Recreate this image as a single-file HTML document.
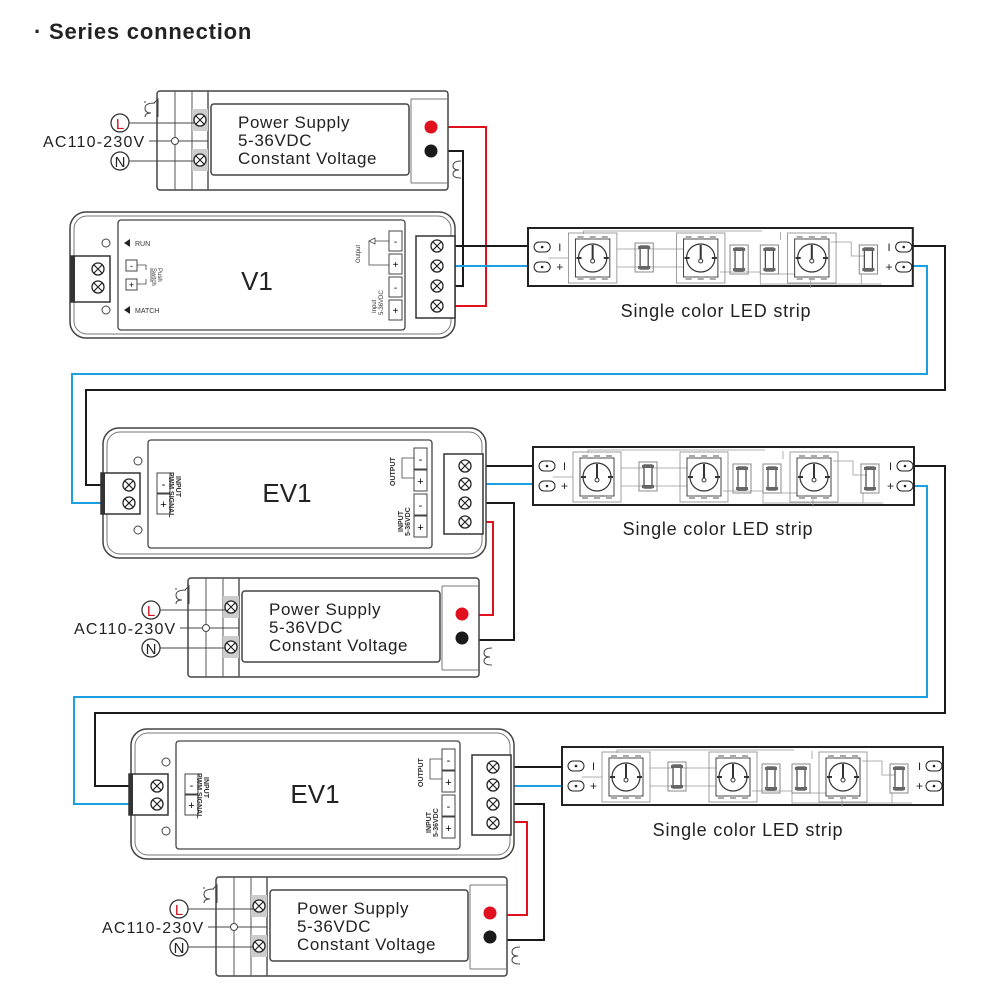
<!DOCTYPE html>
<html><head><meta charset="utf-8"><style>
html,body{margin:0;padding:0;background:#fff;}
svg{display:block;font-family:"Liberation Sans",sans-serif;}
</style></head><body>
<svg width="1000" height="1000" viewBox="0 0 1000 1000" xmlns="http://www.w3.org/2000/svg">
<defs>
  <g id="scr"><circle r="6" fill="#fff" stroke="#222" stroke-width="1.3"/><path d="M-4,-4L4,4M4,-4L-4,4" stroke="#222" stroke-width="1.2"/></g>
  <g id="ps">
    <rect x="0" y="0" width="291" height="99" rx="3" fill="#fff" stroke="#444" stroke-width="1.5"/>
    <line x1="18" y1="0" x2="18" y2="99" stroke="#555"/>
    <line x1="35" y1="0" x2="35" y2="99" stroke="#555"/>
    <line x1="51" y1="0" x2="51" y2="99" stroke="#555" stroke-width="1.5"/>
    <rect x="35" y="18" width="16" height="22" fill="#ccc"/>
    <rect x="35" y="58" width="16" height="22" fill="#ccc"/>
    <use href="#scr" x="43" y="29"/><use href="#scr" x="43" y="69"/>
    <rect x="54" y="13" width="198" height="71" rx="3" fill="#fff" stroke="#444" stroke-width="1.5"/>
    <line x1="254" y1="8" x2="254" y2="92" stroke="#777"/>
    <line x1="254" y1="8" x2="291" y2="8" stroke="#777"/>
    <line x1="254" y1="92" x2="291" y2="92" stroke="#777"/>
    <g font-size="17" fill="#222" letter-spacing="0.6">
    <text x="81" y="37">Power Supply</text>
    <text x="81" y="55">5-36VDC</text>
    <text x="81" y="73">Constant Voltage</text></g>
    <circle cx="274" cy="36" r="6.5" fill="#e0101e"/>
    <circle cx="274" cy="60" r="6.5" fill="#1a1a1a"/>
    <circle cx="-37" cy="32" r="9" fill="#fff" stroke="#333" stroke-width="1.3"/>
    <text x="-37" y="38" font-size="15" fill="#d0101e" text-anchor="middle">L</text>
    <circle cx="-37" cy="70" r="9" fill="#fff" stroke="#333" stroke-width="1.3"/>
    <text x="-37" y="76" font-size="15" fill="#222" text-anchor="middle">N</text>
    <line x1="-28" y1="32" x2="38" y2="32" stroke="#444"/>
    <line x1="-28" y1="70" x2="38" y2="70" stroke="#444"/>
    <line x1="-8" y1="50" x2="51" y2="50" stroke="#444"/>
    <circle cx="18" cy="50" r="3.5" fill="#fff" stroke="#444"/>
    <text x="-114" y="56" font-size="16" fill="#222" letter-spacing="1.2">AC110-230V</text>
    <path d="M-2,12 q-10,0 -10,5 q0,5 6,5 q-6,0 -6,4 M-12,12 v-2 M-3,12 l4,-4 v18" fill="none" stroke="#444"/>
    <path d="M304,70 q-8,0 -8,5 q0,4 6,4 q-6,0 -6,4 q0,4 8,4" fill="none" stroke="#444"/>
  </g>
  <g id="ev">
    <rect x="0" y="0" width="383" height="130" rx="16" fill="#fff" stroke="#444" stroke-width="1.5"/>
    <rect x="4" y="4" width="375" height="122" rx="13" fill="none" stroke="#777"/>
    <rect x="45" y="12" width="284" height="108" rx="3" fill="#fff" stroke="#444" stroke-width="1.3"/>
    <circle cx="35" cy="33" r="4" fill="#fff" stroke="#444"/>
    <circle cx="35" cy="102" r="4" fill="#fff" stroke="#444"/>
    <rect x="-2" y="45" width="39" height="41" fill="#fff" stroke="#333" stroke-width="1.5"/>
    <rect x="-2" y="45" width="4" height="41" fill="#333"/>
    <use href="#scr" x="26" y="57"/><use href="#scr" x="26" y="75"/>
    <rect x="54" y="45" width="13" height="20" fill="#fff" stroke="#444"/><text x="60.5" y="60" font-size="11" text-anchor="middle">-</text>
    <rect x="54" y="66" width="13" height="20" fill="#fff" stroke="#444"/><text x="60.5" y="80" font-size="11" text-anchor="middle">+</text>
    <text transform="translate(73,48) rotate(90)" font-size="7" font-weight="bold" fill="#333">INPUT</text>
    <text transform="translate(66,44) rotate(90)" font-size="7" font-weight="bold" fill="#333">PWM SIGNAL</text>
    <text x="184" y="74" font-size="26" fill="#222" text-anchor="middle">EV1</text>
    <rect x="311" y="20" width="13" height="21" fill="#fff" stroke="#444"/><text x="317.5" y="35" font-size="11" text-anchor="middle">-</text>
    <rect x="311" y="42" width="13" height="21" fill="#fff" stroke="#444"/><text x="317.5" y="57" font-size="11" text-anchor="middle">+</text>
    <rect x="311" y="66" width="13" height="21" fill="#fff" stroke="#444"/><text x="317.5" y="81" font-size="11" text-anchor="middle">-</text>
    <rect x="311" y="88" width="13" height="21" fill="#fff" stroke="#444"/><text x="317.5" y="103" font-size="11" text-anchor="middle">+</text>
    <path d="M311,30 h-12 v20 h12" fill="none" stroke="#444" stroke-width="0.8"/>
    <text transform="translate(292,58) rotate(-90)" font-size="7" font-weight="bold" fill="#333">OUTPUT</text>
    <text transform="translate(300,104) rotate(-90)" font-size="7" font-weight="bold" fill="#333">INPUT</text>
    <text transform="translate(307,108) rotate(-90)" font-size="7" font-weight="bold" fill="#333">5-36VDC</text>
    <rect x="341" y="26" width="39" height="80" fill="#fff" stroke="#333" stroke-width="1.5"/>
    <use href="#scr" x="362" y="38"/><use href="#scr" x="362" y="56"/><use href="#scr" x="362" y="75"/><use href="#scr" x="362" y="94"/>
  </g>
  <g id="led">
    <rect x="0" y="0" width="48" height="50" fill="none" stroke="#888" stroke-width="0.8"/>
    <rect x="7" y="6" width="34" height="38" fill="#fff" stroke="#444" stroke-width="1"/>
    <circle cx="24" cy="25" r="14" fill="#fff" stroke="#333" stroke-width="1.2"/>
    <line x1="24" y1="12" x2="24" y2="27" stroke="#333" stroke-width="2"/>
    <circle cx="24" cy="28" r="2" fill="#fff" stroke="#333"/>
    <rect x="9" y="3" width="6" height="4" fill="#aaa"/><rect x="21" y="3" width="6" height="4" fill="#aaa"/><rect x="33" y="3" width="6" height="4" fill="#aaa"/>
    <rect x="9" y="43" width="6" height="4" fill="#aaa"/><rect x="21" y="43" width="6" height="4" fill="#aaa"/><rect x="33" y="43" width="6" height="4" fill="#aaa"/>
    <rect x="8" y="24" width="5" height="2" fill="#333"/><rect x="35" y="24" width="5" height="2" fill="#333"/>
  </g>
  <g id="res">
    <rect x="0" y="0" width="18" height="29" fill="none" stroke="#888"/>
    <rect x="5" y="3" width="8" height="23" fill="#fff" stroke="#444" stroke-width="1.2"/>
    <rect x="3" y="3" width="12" height="3" fill="#666"/><rect x="3" y="23" width="12" height="3" fill="#666"/>
  </g>
  <g id="strip">
    <rect x="0" y="0" width="381" height="58" fill="#fff" stroke="#222" stroke-width="2"/>
    <g stroke="#999" stroke-width="0.8" fill="none">
      <path d="M55,6 V3 H232 M20,30 H40 M88,21 H160 M88,39 H160 M190,44 H230 V56 H350 M250,12 V4 M280,8 V60 M300,14 H320 V28 H340 M240,46 H290 M330,46 V56"/>
    </g>
    <rect x="6" y="14" width="16" height="10" rx="5" fill="#fff" stroke="#222"/><circle cx="14" cy="19" r="1.3" fill="#222"/>
    <rect x="6" y="34" width="16" height="10" rx="5" fill="#fff" stroke="#222"/><circle cx="14" cy="39" r="1.3" fill="#222"/>
    <text x="30" y="23" font-size="11" fill="#222">I</text><text x="28" y="43" font-size="12" fill="#222">+</text>
    <use href="#led" x="40" y="5"/><use href="#led" x="147" y="5"/><use href="#led" x="257" y="5"/>
    <use href="#res" x="106" y="15"/><use href="#res" x="200" y="17"/><use href="#res" x="230" y="17"/><use href="#res" x="328" y="17"/>
    <text x="356" y="23" font-size="11" fill="#222">I</text><text x="354" y="43" font-size="12" fill="#222">+</text>
    <rect x="364" y="14" width="16" height="10" rx="5" fill="#fff" stroke="#222"/><circle cx="372" cy="19" r="1.3" fill="#222"/>
    <rect x="364" y="34" width="16" height="10" rx="5" fill="#fff" stroke="#222"/><circle cx="372" cy="39" r="1.3" fill="#222"/>
  </g>
</defs>

<text x="34" y="39" font-size="22" font-weight="bold" fill="#222" letter-spacing="0.8">· Series connection</text>

<g fill="none" stroke-width="2">
  <path d="M431,127 H486 V306 H437" stroke="#e0101e"/>
  <path d="M431,151 H463 V286 H437" stroke="#1a1a1a"/>
  <path d="M437,246 H540" stroke="#1a1a1a"/>
  <path d="M437,266 H540" stroke="#1aa0e0"/>
  <path d="M900,246 H945 V390 H86 V485 H129" stroke="#1a1a1a"/>
  <path d="M900,266 H927 V374 H72 V503 H129" stroke="#1aa0e0"/>
  <path d="M465,466 H546" stroke="#1a1a1a"/>
  <path d="M465,484 H546" stroke="#1aa0e0"/>
  <path d="M465,503 H514 V640 H462" stroke="#1a1a1a"/>
  <path d="M465,522 H493 V615 H462" stroke="#e0101e"/>
  <path d="M905,466 H945 V713 H95 V786 H157" stroke="#1a1a1a"/>
  <path d="M905,486 H927 V697 H74 V804 H157" stroke="#1aa0e0"/>
  <path d="M496,767 H575" stroke="#1a1a1a"/>
  <path d="M496,786 H575" stroke="#1aa0e0"/>
  <path d="M496,804 H544 V940 H491" stroke="#1a1a1a"/>
  <path d="M496,822 H527 V915 H491" stroke="#e0101e"/>
</g>

<use href="#ps" x="157" y="91"/>
<use href="#ps" x="188" y="578"/>
<use href="#ps" x="216" y="877"/>

<g>
  <rect x="70" y="212" width="385" height="126" rx="16" fill="#fff" stroke="#444" stroke-width="1.5"/>
  <rect x="74" y="216" width="377" height="118" rx="13" fill="none" stroke="#777"/>
  <rect x="118" y="220" width="287" height="110" rx="3" fill="#fff" stroke="#444" stroke-width="1.3"/>
  <circle cx="106" cy="243" r="4" fill="#fff" stroke="#444"/>
  <circle cx="106" cy="310" r="4" fill="#fff" stroke="#444"/>
  <rect x="71" y="256" width="39" height="46" fill="#fff" stroke="#333" stroke-width="1.5"/>
  <rect x="71" y="256" width="4" height="46" fill="#333"/>
  <use href="#scr" x="98" y="269"/><use href="#scr" x="98" y="287"/>
  <path d="M124,243 l6,-4 v8z" fill="#222"/><text x="135" y="246" font-size="7" fill="#333">RUN</text>
  <path d="M124,310 l6,-4 v8z" fill="#222"/><text x="135" y="313" font-size="7" fill="#333">MATCH</text>
  <rect x="126" y="260" width="11" height="11" fill="#fff" stroke="#444"/><text x="131.5" y="269" font-size="9" text-anchor="middle">-</text>
  <rect x="126" y="279" width="11" height="11" fill="#fff" stroke="#444"/><text x="131.5" y="288" font-size="9" text-anchor="middle">+</text>
  <path d="M137,265 h9 v5 M137,284 h9 v-5 M151,268 v14" fill="none" stroke="#444" stroke-width="0.8"/>
  <text transform="translate(158,268) rotate(90)" font-size="6" fill="#333">Push</text>
  <text transform="translate(152,268) rotate(90)" font-size="6" fill="#333">Switch</text>
  <text x="257" y="290" font-size="26" fill="#222" text-anchor="middle">V1</text>
  <rect x="389" y="231" width="13" height="20" fill="#fff" stroke="#444"/><text x="395.5" y="245" font-size="10" text-anchor="middle">-</text>
  <rect x="389" y="254" width="13" height="20" fill="#fff" stroke="#444"/><text x="395.5" y="268" font-size="10" text-anchor="middle">+</text>
  <rect x="389" y="277" width="13" height="20" fill="#fff" stroke="#444"/><text x="395.5" y="291" font-size="10" text-anchor="middle">-</text>
  <rect x="389" y="300" width="13" height="20" fill="#fff" stroke="#444"/><text x="395.5" y="314" font-size="10" text-anchor="middle">+</text>
  <path d="M389,241 h-14 M375,238 l-6,3 6,3z M369,241 v24 h20" fill="none" stroke="#444" stroke-width="0.8"/>
  <text transform="translate(360,263) rotate(-90)" font-size="6" fill="#333">Output</text>
  <text transform="translate(376,313) rotate(-90)" font-size="6" fill="#333">Input</text>
  <text transform="translate(383,315) rotate(-90)" font-size="6" fill="#333">5-36VDC</text>
  <rect x="416" y="236" width="39" height="82" fill="#fff" stroke="#333" stroke-width="1.5"/>
  <use href="#scr" x="437" y="246"/><use href="#scr" x="437" y="266"/><use href="#scr" x="437" y="286"/><use href="#scr" x="437" y="306"/>
</g>

<use href="#ev" x="103" y="428"/>
<use href="#ev" x="131" y="729"/>

<use href="#strip" transform="translate(528,228) scale(1.01,1)"/>
<use href="#strip" x="533" y="447"/>
<use href="#strip" x="562" y="747"/>

<g font-size="18" fill="#222" text-anchor="middle" letter-spacing="0.8">
<text x="716" y="317">Single color LED strip</text>
<text x="718" y="535">Single color LED strip</text>
<text x="748" y="836">Single color LED strip</text>
</g>
</svg>
</body></html>
